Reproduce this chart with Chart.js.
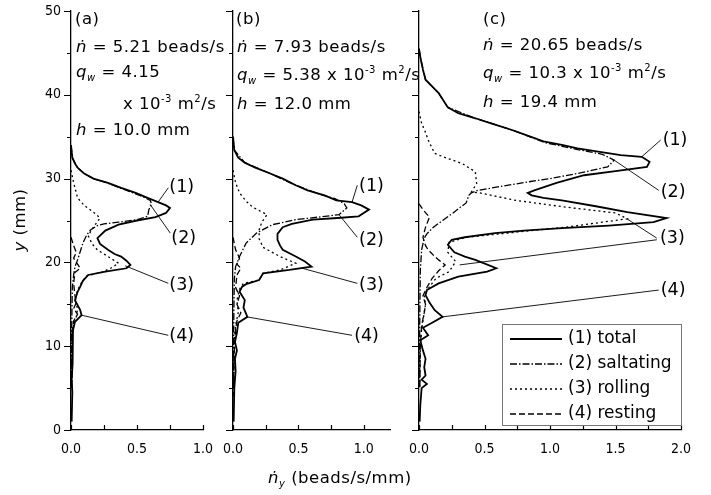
<!DOCTYPE html>
<html>
<head>
<meta charset="utf-8">
<script src="https://cdn.jsdelivr.net/npm/chart.js@4"></script>
<style>
  body { margin: 0; background: #fff; }
  #wrap { position: relative; width: 711px; height: 495px; font-family: 'DejaVu Sans', sans-serif; color: #000; }
  canvas { position: absolute; left: 0; top: 0; }
  .note { position: absolute; font-size: 16.5px; line-height: 18px; white-space: nowrap; letter-spacing: 0.5px; }
  .note sub { font-size: 10px; vertical-align: -4px; line-height: 0; }
  .note sup { font-size: 10px; vertical-align: 7px; line-height: 0; }
</style>
</head>
<body>
<div id="wrap">
  <canvas id="pa" width="711" height="495"></canvas>
  <canvas id="pb" width="711" height="495"></canvas>
  <canvas id="pc" width="711" height="495"></canvas>

  <div class="note" style="left:75px;top:10px">(a)</div>
  <div class="note" style="left:76px;top:38px"><i>ṅ</i> = 5.21 beads/s</div>
  <div class="note" style="left:76px;top:63px"><i>q</i><sub><i>w</i></sub> = 4.15</div>
  <div class="note" style="left:123px;top:95px">x 10<sup>-3</sup> m<sup>2</sup>/s</div>
  <div class="note" style="left:76px;top:121px"><i>h</i> = 10.0 mm</div>

  <div class="note" style="left:236px;top:10px">(b)</div>
  <div class="note" style="left:237px;top:38px"><i>ṅ</i> = 7.93 beads/s</div>
  <div class="note" style="left:237px;top:66px"><i>q</i><sub><i>w</i></sub> = 5.38 x 10<sup>-3</sup> m<sup>2</sup>/s</div>
  <div class="note" style="left:237px;top:95px"><i>h</i> = 12.0 mm</div>

  <div class="note" style="left:483px;top:10px">(c)</div>
  <div class="note" style="left:483px;top:36px"><i>ṅ</i> = 20.65 beads/s</div>
  <div class="note" style="left:483px;top:64px"><i>q</i><sub><i>w</i></sub> = 10.3 x 10<sup>-3</sup> m<sup>2</sup>/s</div>
  <div class="note" style="left:483px;top:93px"><i>h</i> = 19.4 mm</div>

  <div class="note" style="left:268px;top:469px"><i>ṅ</i><sub><i>y</i></sub> (beads/s/mm)</div>
  <div class="note" style="left:-12px;top:211px;width:64px;text-align:center;transform:rotate(-90deg)"><i>y</i> (mm)</div>
</div>

<script>
// profiles: [n_y (beads/s/mm), y (mm)]
// panel (a)
const aTotal = [[0,34],[0.01,32.5],[0.03,31.8],[0.05,31.3],[0.1,30.6],[0.17,30.0],[0.28,29.5],[0.38,28.9],[0.49,28.3],[0.58,27.7],[0.66,27.2],[0.72,26.8],[0.75,26.5],[0.72,25.9],[0.64,25.4],[0.5,25.0],[0.36,24.5],[0.26,23.8],[0.2,22.9],[0.22,22.2],[0.28,21.5],[0.33,21.0],[0.38,20.7],[0.42,20.2],[0.45,19.7],[0.42,19.3],[0.26,18.9],[0.13,18.5],[0.09,17.8],[0.07,17.1],[0.05,16.5],[0.03,15.5],[0.07,14.3],[0.08,13.7],[0.03,12.9],[0.015,11.9],[0.01,10],[0.015,8],[0.005,6],[0.01,4.5],[0.005,1]]
const aSalt = [[0,34],[0.01,32.5],[0.05,31.3],[0.1,30.6],[0.17,30.0],[0.27,29.5],[0.37,28.9],[0.47,28.3],[0.55,27.8],[0.6,27.4],[0.61,27.0],[0.59,26.3],[0.58,25.5],[0.5,25.1],[0.36,24.8],[0.25,24.6],[0.2,24.4],[0.15,23.9],[0.12,23.3],[0.09,22.3],[0.07,21.3],[0.05,20.3],[0.03,19.5],[0.02,18.5],[0.01,17],[0.005,12],[0.005,5]]
const aRoll = [[0,31],[0.02,29.5],[0.05,27.7],[0.1,26.8],[0.17,26.0],[0.22,25.3],[0.17,24.2],[0.13,23.2],[0.16,22.2],[0.2,21.5],[0.26,20.9],[0.3,20.5],[0.36,19.9],[0.3,19.3],[0.23,18.8],[0.12,18.4],[0.08,17.6],[0.05,16.7],[0.03,15.5],[0.05,14.5],[0.04,13.5],[0.02,12.5],[0.01,11],[0.005,5]]
const aRest = [[0,23],[0.02,22],[0.04,21.2],[0.02,20.5],[0.05,19.8],[0.07,19.3],[0.03,18.8],[0.02,17.5],[0.03,16],[0.04,15.2],[0.02,14.5],[0.05,13.8],[0.02,13],[0.01,12],[0.005,5]]

// panel (b)
const bTotal = [[0,35],[0.01,33.4],[0.04,32.5],[0.09,31.9],[0.17,31.3],[0.27,30.7],[0.38,30.0],[0.48,29.2],[0.57,28.6],[0.7,28.0],[0.79,27.4],[0.91,27.2],[0.98,26.8],[1.04,26.3],[0.96,25.5],[0.8,25.3],[0.61,25.1],[0.45,24.6],[0.38,24.2],[0.34,23.4],[0.34,22.7],[0.36,22.0],[0.38,21.5],[0.48,20.7],[0.55,20.1],[0.6,19.5],[0.43,19.1],[0.23,18.7],[0.2,17.9],[0.1,17.4],[0.07,17.1],[0.05,16.5],[0.09,15.5],[0.08,14.6],[0.11,13.5],[0.04,12.8],[0.03,11.6],[0.015,10.5],[0.03,9.5],[0.015,8.5],[0.02,7],[0.01,5],[0.005,1]]
const bSalt = [[0,35],[0.01,33.4],[0.09,31.9],[0.27,30.7],[0.48,29.2],[0.65,28.2],[0.78,27.6],[0.85,27.0],[0.87,26.5],[0.81,25.7],[0.65,25.4],[0.48,25.1],[0.3,24.5],[0.18,23.5],[0.1,22.3],[0.05,20.7],[0.02,19.5],[0.01,18],[0.005,12],[0.005,5]]
const bRoll = [[0,31],[0.02,29.5],[0.05,28.3],[0.1,27.3],[0.15,26.6],[0.26,25.7],[0.22,24.8],[0.2,23.9],[0.2,22.8],[0.23,21.8],[0.3,21.2],[0.36,20.7],[0.48,19.9],[0.36,19.1],[0.23,18.7],[0.2,17.9],[0.08,17.5],[0.05,16.8],[0.03,15.5],[0.04,14],[0.02,12.5],[0.01,11],[0.005,5]]
const bRest = [[0,23],[0.02,21.5],[0.05,20.5],[0.03,19.8],[0.06,19.3],[0.03,18.5],[0.02,17],[0.05,16],[0.03,15],[0.06,14],[0.03,13],[0.02,12],[0.005,8],[0.005,4]]

// panel (c)
const cTotal = [[0,45.5],[0.01,44.5],[0.03,43],[0.05,41.8],[0.1,41],[0.15,40.2],[0.22,38.5],[0.3,37.8],[0.43,37.2],[0.55,36.6],[0.71,35.8],[0.85,35.0],[0.96,34.4],[1.1,34.0],[1.21,33.6],[1.38,33.2],[1.54,32.8],[1.7,32.6],[1.76,32.0],[1.74,31.4],[1.5,30.9],[1.26,30.4],[1.05,29.5],[0.88,28.6],[0.83,28.3],[0.86,28.0],[0.95,27.7],[1.09,27.4],[1.35,26.7],[1.59,26.0],[1.89,25.3],[1.79,24.8],[1.45,24.4],[1.09,24.1],[0.8,23.8],[0.58,23.5],[0.35,23.0],[0.25,22.7],[0.22,22.1],[0.27,21.2],[0.35,20.7],[0.43,20.3],[0.59,19.3],[0.52,18.9],[0.3,18.3],[0.15,17.5],[0.06,16.7],[0.05,16.1],[0.08,15.2],[0.12,14.3],[0.18,13.5],[0.1,12.8],[0.03,12.2],[0.07,11.3],[0.01,10.7],[0.03,9.5],[0.05,8.5],[0.04,7.5],[0.05,6.5],[0.02,6.0],[0.06,5.5],[0.02,5],[0.01,3],[0.005,1]]
const cSalt = [[0,45.5],[0.01,44.5],[0.05,41.8],[0.15,40.2],[0.22,38.5],[0.43,37.2],[0.71,35.8],[0.96,34.3],[1.2,33.5],[1.4,32.9],[1.49,32.2],[1.44,31.4],[1.24,30.7],[1.0,30.0],[0.83,29.6],[0.6,29.0],[0.45,28.6],[0.4,28.3],[0.38,28.0],[0.36,27.1],[0.3,26.4],[0.26,25.9],[0.18,25.0],[0.11,24.2],[0.06,23.4],[0.04,22.9],[0.02,21.5],[0.01,19],[0.005,12],[0.005,5]]
const cRoll = [[0,38],[0.02,36.6],[0.05,35.5],[0.07,34.6],[0.12,33.0],[0.22,32.4],[0.33,31.8],[0.43,30.8],[0.44,29.4],[0.4,28.4],[0.46,28.3],[0.74,27.4],[1.12,26.6],[1.5,25.9],[1.59,25.2],[1.4,24.8],[1.12,24.2],[0.74,23.6],[0.36,23.0],[0.23,22.4],[0.22,21.2],[0.28,20.1],[0.23,18.9],[0.13,18.1],[0.08,17.1],[0.04,16],[0.05,15],[0.04,14],[0.02,12],[0.01,10],[0.005,5]]
const cRest = [[0,27],[0.03,26.3],[0.08,25.4],[0.05,24.2],[0.03,23],[0.05,22],[0.07,21.5],[0.12,20.7],[0.15,20.3],[0.2,19.7],[0.15,19.0],[0.1,18.1],[0.06,17],[0.03,16],[0.05,15],[0.04,14],[0.02,12.5],[0.01,10],[0.005,5]]

const seriesNames = ['(1) total', '(2) saltating', '(3) rolling', '(4) resting']
const dashes = [[], [7, 2, 1.5, 2], [2, 3], [6, 3]]
const widths = [1.8, 1.3, 1.3, 1.3]

// leader lines: from a curve point to the label, [x, y] in data units
const aLeaders = [
  {from: [0.66, 27.2], to: [0.737, 28.9], text: '(1)', at: [0.745, 28.9]},
  {from: [0.6, 26.9], to: [0.752, 23.5], text: '(2)', at: [0.76, 22.8]},
  {from: [0.41, 19.6], to: [0.737, 17.5], text: '(3)', at: [0.745, 17.3]},
  {from: [0.08, 13.7], to: [0.737, 11.3], text: '(4)', at: [0.745, 11.2]},
]
const bLeaders = [
  {from: [0.91, 27.2], to: [0.95, 29.2], text: '(1)', at: [0.964, 29.1]},
  {from: [0.81, 25.7], to: [0.95, 23.0], text: '(2)', at: [0.964, 22.6]},
  {from: [0.53, 19.3], to: [0.95, 17.5], text: '(3)', at: [0.964, 17.3]},
  {from: [0.106, 13.5], to: [0.91, 11.3], text: '(4)', at: [0.926, 11.2]},
]
const cLeaders = [
  {from: [1.70, 32.6], to: [1.845, 34.6], text: '(1)', at: [1.86, 34.5]},
  {from: [1.49, 32.2], to: [1.83, 28.6], text: '(2)', at: [1.845, 28.4]},
  {from: [1.587, 25.2], to: [1.815, 22.9], text: '(3)', at: [1.84, 22.8]},
  {from: [0.31, 19.7], to: [1.815, 22.7], text: '', at: [1.84, 22.8]},
  {from: [0.18, 13.5], to: [1.83, 16.7], text: '(4)', at: [1.845, 16.7]},
]

const tickFont = {family: "'DejaVu Sans Condensed', 'DejaVu Sans', sans-serif", size: 14}
const labelFont = "17.5px 'DejaVu Sans', sans-serif"
const legendFont = "17px 'DejaVu Sans', sans-serif"

const toPts = (arr) => arr.map(p => ({x: p[0], y: p[1]}))

// ticks, leader lines and the legend box
const extras = {
  id: 'extras',
  afterDraw(chart) {
    const ctx = chart.ctx
    const xs = chart.scales.x
    const ys = chart.scales.y
    const cfg = chart.config.options.extras
    ctx.save()
    ctx.strokeStyle = '#000'
    ctx.lineWidth = 1.2
    ctx.beginPath()
    xs.ticks.forEach(t => {
      const px = Math.round(xs.getPixelForValue(t.value)) + 0.5
      ctx.moveTo(px, ys.bottom)
      ctx.lineTo(px, ys.bottom - 5)
    })
    ys.ticks.forEach(t => {
      const py = Math.round(ys.getPixelForValue(t.value)) + 0.5
      const len = t.value % 10 === 0 ? 7 : 4
      ctx.moveTo(xs.left - len, py)
      ctx.lineTo(xs.left, py)
    })
    ctx.stroke()

    ctx.lineWidth = 0.9
    ctx.font = labelFont
    ctx.fillStyle = '#000'
    ctx.textBaseline = 'middle'
    ctx.textAlign = 'left'
    cfg.leaders.forEach(l => {
      ctx.beginPath()
      ctx.moveTo(xs.getPixelForValue(l.from[0]), ys.getPixelForValue(l.from[1]))
      ctx.lineTo(xs.getPixelForValue(l.to[0]), ys.getPixelForValue(l.to[1]))
      ctx.stroke()
      if (l.text) ctx.fillText(l.text, xs.getPixelForValue(l.at[0]), ys.getPixelForValue(l.at[1]))
    })

    if (cfg.legend) {
      const bx = 502, by = 324, bw = 179, bh = 101
      ctx.fillStyle = '#fff'
      ctx.fillRect(bx, by, bw, bh)
      ctx.strokeStyle = '#777'
      ctx.lineWidth = 1
      ctx.strokeRect(bx + 0.5, by + 0.5, bw, bh)
      ctx.font = legendFont
      ctx.fillStyle = '#000'
      ctx.strokeStyle = '#000'
      seriesNames.forEach((name, i) => {
        const ry = by + 15 + i * 25
        ctx.lineWidth = widths[i]
        ctx.setLineDash(dashes[i])
        ctx.beginPath()
        ctx.moveTo(bx + 8, ry)
        ctx.lineTo(bx + 60, ry)
        ctx.stroke()
        ctx.setLineDash([])
        ctx.fillText(name, bx + 66, ry)
      })
    }
    ctx.restore()
  }
}

function makePanel(id, series, xMax, area, showYLabels, leaders, legend) {
  const yAxisW = showYLabels ? 40 : 10
  const xAxisH = 30
  return new Chart(document.getElementById(id), {
    type: 'scatter',
    data: {
      datasets: series.map((s, i) => ({
        label: seriesNames[i],
        data: toPts(s),
        showLine: true,
        borderColor: '#000',
        borderWidth: widths[i],
        borderDash: dashes[i],
        pointRadius: 0,
        fill: false,
        tension: 0,
      }))
    },
    options: {
      responsive: false,
      animation: false,
      extras: {leaders: leaders, legend: legend},
      layout: {padding: {left: area.left - yAxisW, right: 711 - area.right, top: area.top, bottom: 495 - area.bottom - xAxisH}},
      plugins: {legend: {display: false}, tooltip: {enabled: false}},
      scales: {
        x: {
          type: 'linear', min: 0, max: xMax,
          grid: {display: false},
          border: {color: '#000', width: 1.3},
          afterFit: (s) => { s.height = xAxisH },
          ticks: {
            stepSize: 0.25, includeBounds: false, autoSkip: false, maxRotation: 0,
            padding: 3, color: '#000', font: tickFont,
            callback: (v) => Math.abs(v * 2 - Math.round(v * 2)) < 1e-6 ? v.toFixed(1) : ''
          }
        },
        y: {
          type: 'linear', min: 0, max: 50,
          grid: {display: false},
          border: {color: '#000', width: 1.3},
          afterFit: (s) => { s.width = yAxisW },
          ticks: {
            stepSize: 5, autoSkip: false, padding: 2, color: '#000', font: tickFont,
            callback: (v) => (showYLabels && v % 10 === 0) ? String(v) : ''
          }
        }
      }
    },
    plugins: [extras]
  })
}

makePanel('pa', [aTotal, aSalt, aRoll, aRest], 1.0, {left: 71, right: 203, top: 11, bottom: 430}, true, aLeaders, false)
makePanel('pb', [bTotal, bSalt, bRoll, bRest], 1.2, {left: 233, right: 390, top: 11, bottom: 430}, false, bLeaders, false)
makePanel('pc', [cTotal, cSalt, cRoll, cRest], 2.0, {left: 419, right: 681, top: 11, bottom: 430}, false, cLeaders, true)
</script>
</body>
</html>
